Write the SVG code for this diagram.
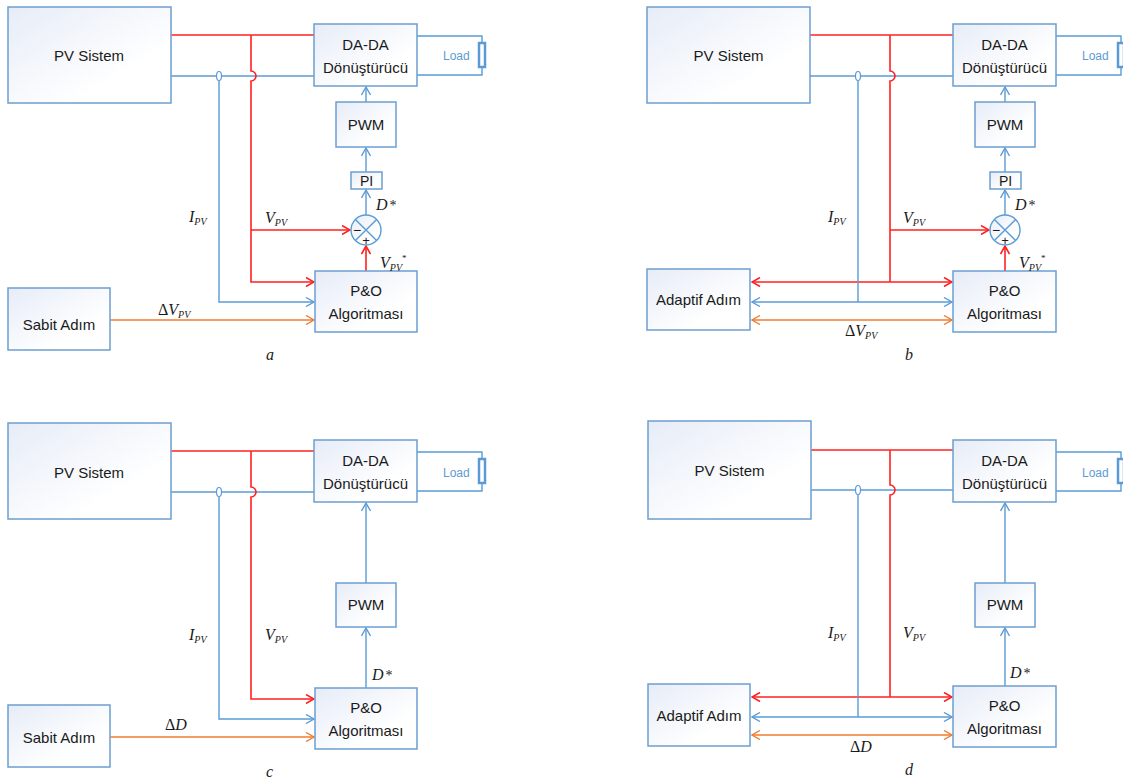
<svg xmlns="http://www.w3.org/2000/svg" width="1123" height="780" viewBox="0 0 1123 780">
<defs>
<linearGradient id="bg" x1="0" y1="0" x2="1" y2="1">
<stop offset="0" stop-color="#e6ecf7"/>
<stop offset="0.7" stop-color="#ffffff"/>
</linearGradient>
<marker id="ab" viewBox="0 0 10 10" refX="9" refY="5" markerWidth="10" markerHeight="10" markerUnits="userSpaceOnUse" orient="auto-start-reverse"><path d="M1,0.5 L9,5 L1,9.5" fill="none" stroke="#5b9bd5" stroke-width="1.4"/></marker>
<marker id="ar" viewBox="0 0 10 10" refX="9" refY="5" markerWidth="10" markerHeight="10" markerUnits="userSpaceOnUse" orient="auto-start-reverse"><path d="M1,0.5 L9,5 L1,9.5" fill="none" stroke="#ff2020" stroke-width="1.6"/></marker>
<marker id="ao" viewBox="0 0 10 10" refX="9" refY="5" markerWidth="10" markerHeight="10" markerUnits="userSpaceOnUse" orient="auto-start-reverse"><path d="M1,0.5 L9,5 L1,9.5" fill="none" stroke="#ed7d31" stroke-width="1.4"/></marker>
</defs>
<style>
.box{fill:url(#bg);stroke:#6d9ed1;stroke-width:1.5}
.t{font-family:"Liberation Sans",Arial,sans-serif;font-size:15px;fill:#1a1a1a;text-anchor:middle}
.ld{font-family:"Liberation Sans",Arial,sans-serif;font-size:12px;fill:#5b9bd5}
.m{font-family:"Liberation Serif","Times New Roman",serif;font-style:italic;font-size:16px;fill:#1a1a1a}
.s{font-size:10px}
.r{fill:none;stroke:#ff2020;stroke-width:1.6}
.b{fill:none;stroke:#5b9bd5;stroke-width:1.4}
.o{fill:none;stroke:#ed7d31;stroke-width:1.4}
.res{fill:#ffffff;stroke:#5b9bd5;stroke-width:2.5}
.j{fill:#ffffff;stroke:#5b9bd5;stroke-width:1.2}
.sum{fill:url(#bg);stroke:#5b9bd5;stroke-width:1.4}
</style>
<rect width="1123" height="780" fill="#ffffff"/>

<!-- ===== Panel a ===== -->
<g id="connectors-a">
<path class="r" d="M171,35 H314"/>
<path class="b" d="M171,76 H314"/>
<path class="r" d="M251,35 V71 A5,5 0 0 1 251,81 V282 H314" marker-end="url(#ar)"/>
<path class="r" d="M251,230 H350" marker-end="url(#ar)"/>
<path class="r" d="M366,271 V246" marker-end="url(#ar)"/>
<path class="b" d="M366,215 V190" marker-end="url(#ab)"/>
<path class="b" d="M366,172 V148" marker-end="url(#ab)"/>
<path class="b" d="M366,102 V87" marker-end="url(#ab)"/>
<path class="b" d="M219,81 V302 H314" marker-end="url(#ab)"/>
<ellipse class="j" cx="219" cy="76" rx="2.5" ry="4.5"/>
<path class="o" d="M110,320 H314" marker-end="url(#ao)"/>
<path class="b" d="M417,36 H482 V43 M417,75 H482 V67"/>
</g>
<g id="pv-a"><rect class="box" x="8" y="7" width="163" height="96"/><text class="t" x="89" y="61">PV Sistem</text></g>
<g id="dada-a"><rect class="box" x="314" y="24" width="103" height="62"/><text class="t" x="365.5" y="50">DA-DA</text><text class="t" x="365.5" y="73">Dönüştürücü</text></g>
<g id="load-a"><rect class="res" x="479" y="43" width="6" height="24"/><text class="ld" x="443" y="60">Load</text></g>
<g id="pwm-a"><rect class="box" x="336" y="102" width="60" height="45"/><text class="t" x="366" y="130">PWM</text></g>
<g id="pi-a"><rect class="box" x="351" y="172" width="31" height="17"/><text class="t" x="366.5" y="186" style="font-size:14px">PI</text></g>
<g id="sum-a"><circle class="sum" cx="366" cy="230" r="15"/><path class="b" d="M355.4,219.4 L376.6,240.6 M376.6,219.4 L355.4,240.6"/><text class="t" x="357" y="235" style="font-size:14px">−</text><text class="t" x="366" y="245" style="font-size:13px">+</text></g>
<g id="po-a"><rect class="box" x="315" y="271" width="102" height="61"/><text class="t" x="366" y="296">P&amp;O</text><text class="t" x="366" y="319">Algoritması</text></g>
<g id="sabit-a"><rect class="box" x="8" y="288" width="102" height="62"/><text class="t" x="59" y="330">Sabit Adım</text></g>
<g id="labels-a">
<text class="m" x="189" y="222">I<tspan class="s" dy="3">PV</tspan></text>
<text class="m" x="265" y="223">V<tspan class="s" dy="3">PV</tspan></text>
<text class="m" x="376" y="210">D<tspan dx="2" style="font-style:normal;font-size:14px">*</tspan></text>
<text class="m" x="380" y="268">V<tspan class="s" dy="3">PV</tspan><tspan dy="-10" style="font-size:9px;font-style:normal">*</tspan></text>
<text class="m" x="158" y="315" style="font-style:normal">Δ<tspan style="font-style:italic">V</tspan><tspan class="s" dy="3" style="font-style:italic">PV</tspan></text>
<text class="m" x="266" y="360">a</text>
</g>

<!-- ===== Panel b ===== -->
<g id="connectors-b">
<path class="r" d="M810,35 H953"/>
<path class="b" d="M810,76 H953"/>
<path class="r" d="M890,35 V71 A5,5 0 0 1 890,81 V282"/>
<path class="r" d="M752,282 H952" marker-start="url(#ar)" marker-end="url(#ar)"/>
<path class="r" d="M890,230 H989" marker-end="url(#ar)"/>
<path class="r" d="M1005,271 V246" marker-end="url(#ar)"/>
<path class="b" d="M1005,215 V190" marker-end="url(#ab)"/>
<path class="b" d="M1005,172 V148" marker-end="url(#ab)"/>
<path class="b" d="M1005,102 V87" marker-end="url(#ab)"/>
<path class="b" d="M858,81 V302"/>
<ellipse class="j" cx="858" cy="76" rx="2.5" ry="4.5"/>
<path class="b" d="M752,302 H952" marker-start="url(#ab)" marker-end="url(#ab)"/>
<path class="o" d="M752,320 H952" marker-start="url(#ao)" marker-end="url(#ao)"/>
<path class="b" d="M1056,36 H1121 V43 M1056,75 H1121 V67"/>
</g>
<g id="pv-b"><rect class="box" x="647" y="7" width="163" height="96"/><text class="t" x="728.5" y="61">PV Sistem</text></g>
<g id="dada-b"><rect class="box" x="953" y="24" width="103" height="62"/><text class="t" x="1004.5" y="50">DA-DA</text><text class="t" x="1004.5" y="73">Dönüştürücü</text></g>
<g id="load-b"><rect class="res" x="1118" y="43" width="6" height="24"/><text class="ld" x="1082" y="60">Load</text></g>
<g id="pwm-b"><rect class="box" x="975" y="102" width="60" height="45"/><text class="t" x="1005" y="130">PWM</text></g>
<g id="pi-b"><rect class="box" x="990" y="172" width="31" height="17"/><text class="t" x="1005.5" y="186" style="font-size:14px">PI</text></g>
<g id="sum-b"><circle class="sum" cx="1005" cy="230" r="15"/><path class="b" d="M994.4,219.4 L1015.6,240.6 M1015.6,219.4 L994.4,240.6"/><text class="t" x="996" y="235" style="font-size:14px">−</text><text class="t" x="1005" y="245" style="font-size:13px">+</text></g>
<g id="po-b"><rect class="box" x="953" y="271" width="103" height="61"/><text class="t" x="1004.5" y="296">P&amp;O</text><text class="t" x="1004.5" y="319">Algoritması</text></g>
<g id="adaptif-b"><rect class="box" x="647" y="269" width="103" height="61"/><text class="t" x="698.5" y="305">Adaptif Adım</text></g>
<g id="labels-b">
<text class="m" x="828" y="222">I<tspan class="s" dy="3">PV</tspan></text>
<text class="m" x="903" y="223">V<tspan class="s" dy="3">PV</tspan></text>
<text class="m" x="1015" y="210">D<tspan dx="2" style="font-style:normal;font-size:14px">*</tspan></text>
<text class="m" x="1019" y="268">V<tspan class="s" dy="3">PV</tspan><tspan dy="-10" style="font-size:9px;font-style:normal">*</tspan></text>
<text class="m" x="845" y="336" style="font-style:normal">Δ<tspan style="font-style:italic">V</tspan><tspan class="s" dy="3" style="font-style:italic">PV</tspan></text>
<text class="m" x="905" y="360">b</text>
</g>

<!-- ===== Panel c ===== -->
<g id="connectors-c">
<path class="r" d="M171,451 H314"/>
<path class="b" d="M171,492 H314"/>
<path class="r" d="M251,451 V487 A5,5 0 0 1 251,497 V699 H314" marker-end="url(#ar)"/>
<path class="b" d="M219,497 V719 H314" marker-end="url(#ab)"/>
<ellipse class="j" cx="219" cy="492" rx="2.5" ry="4.5"/>
<path class="o" d="M110,737 H314" marker-end="url(#ao)"/>
<path class="b" d="M366,688 V628" marker-end="url(#ab)"/>
<path class="b" d="M366,583 V503" marker-end="url(#ab)"/>
<path class="b" d="M417,452 H482 V459 M417,491 H482 V483"/>
</g>
<g id="pv-c"><rect class="box" x="8" y="423" width="163" height="96"/><text class="t" x="89" y="478">PV Sistem</text></g>
<g id="dada-c"><rect class="box" x="314" y="440" width="103" height="62"/><text class="t" x="365.5" y="466">DA-DA</text><text class="t" x="365.5" y="489">Dönüştürücü</text></g>
<g id="load-c"><rect class="res" x="479" y="459" width="6" height="24"/><text class="ld" x="443" y="477">Load</text></g>
<g id="pwm-c"><rect class="box" x="336" y="583" width="60" height="44"/><text class="t" x="366" y="610">PWM</text></g>
<g id="po-c"><rect class="box" x="315" y="688" width="102" height="61"/><text class="t" x="366" y="713">P&amp;O</text><text class="t" x="366" y="736">Algoritması</text></g>
<g id="sabit-c"><rect class="box" x="8" y="705" width="102" height="62"/><text class="t" x="59" y="743">Sabit Adım</text></g>
<g id="labels-c">
<text class="m" x="189" y="640">I<tspan class="s" dy="3">PV</tspan></text>
<text class="m" x="265" y="640">V<tspan class="s" dy="3">PV</tspan></text>
<text class="m" x="372" y="680">D<tspan dx="2" style="font-style:normal;font-size:14px">*</tspan></text>
<text class="m" x="165" y="730" style="font-style:normal">Δ<tspan style="font-style:italic">D</tspan></text>
<text class="m" x="266" y="777">c</text>
</g>

<!-- ===== Panel d ===== -->
<g id="connectors-d">
<path class="r" d="M811,450 H953"/>
<path class="b" d="M811,490 H953"/>
<path class="r" d="M890,450 V485 A5,5 0 0 1 890,495 V697"/>
<path class="r" d="M752,697 H952" marker-start="url(#ar)" marker-end="url(#ar)"/>
<path class="b" d="M858,495 V717"/>
<ellipse class="j" cx="858" cy="490" rx="2.5" ry="4.5"/>
<path class="b" d="M752,717 H952" marker-start="url(#ab)" marker-end="url(#ab)"/>
<path class="o" d="M752,735 H952" marker-start="url(#ao)" marker-end="url(#ao)"/>
<path class="b" d="M1005,686 V628" marker-end="url(#ab)"/>
<path class="b" d="M1005,583 V503" marker-end="url(#ab)"/>
<path class="b" d="M1056,452 H1121 V459 M1056,491 H1121 V483"/>
</g>
<g id="pv-d"><rect class="box" x="648" y="421" width="163" height="98"/><text class="t" x="729.5" y="476">PV Sistem</text></g>
<g id="dada-d"><rect class="box" x="953" y="440" width="103" height="62"/><text class="t" x="1004.5" y="466">DA-DA</text><text class="t" x="1004.5" y="489">Dönüştürücü</text></g>
<g id="load-d"><rect class="res" x="1118" y="459" width="6" height="24"/><text class="ld" x="1082" y="477">Load</text></g>
<g id="pwm-d"><rect class="box" x="975" y="583" width="60" height="44"/><text class="t" x="1005" y="610">PWM</text></g>
<g id="po-d"><rect class="box" x="953" y="686" width="103" height="61"/><text class="t" x="1004.5" y="711">P&amp;O</text><text class="t" x="1004.5" y="734">Algoritması</text></g>
<g id="adaptif-d"><rect class="box" x="648" y="684" width="102" height="62"/><text class="t" x="699" y="721">Adaptif Adım</text></g>
<g id="labels-d">
<text class="m" x="828" y="638">I<tspan class="s" dy="3">PV</tspan></text>
<text class="m" x="903" y="638">V<tspan class="s" dy="3">PV</tspan></text>
<text class="m" x="1010" y="678">D<tspan dx="2" style="font-style:normal;font-size:14px">*</tspan></text>
<text class="m" x="850" y="752" style="font-style:normal">Δ<tspan style="font-style:italic">D</tspan></text>
<text class="m" x="905" y="775">d</text>
</g>
</svg>
